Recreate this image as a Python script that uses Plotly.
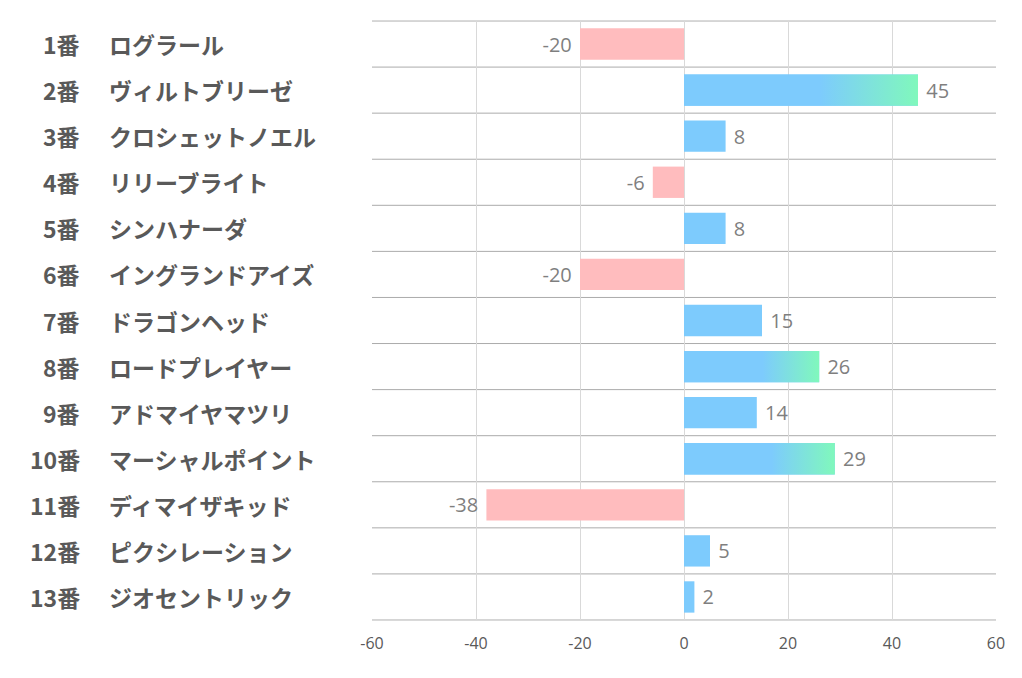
import plotly.graph_objects as go

numbers = ["1番", "2番", "3番", "4番", "5番", "6番", "7番", "8番", "9番", "10番", "11番", "12番", "13番"]
names = ["ログラール", "ヴィルトブリーゼ", "クロシェットノエル", "リリーブライト", "シンハナーダ",
         "イングランドアイズ", "ドラゴンヘッド", "ロードプレイヤー", "アドマイヤマツリ",
         "マーシャルポイント", "ディマイザキッド", "ピクシレーション", "ジオセントリック"]
values = [-20, 45, 8, -6, 8, -20, 15, 26, 14, 29, -38, 5, 2]
x_ticks = [-60, -40, -20, 0, 20, 40, 60]

BLUE = "#7DCBFD"
PINK = "#FFBCBE"
GREEN = "#80F8BC"
BAR_W = 0.68

pos = list(range(len(values)))
colors = [BLUE if v >= 0 else PINK for v in values]
labels = [f" {v}" if v >= 0 else f"{v} " for v in values]

fig = go.Figure()
fig.add_trace(go.Bar(
    x=values, y=pos, orientation="h", width=BAR_W,
    marker=dict(color=colors, line=dict(width=0)),
    text=labels, textposition="outside",
    textfont=dict(family="Open Sans", size=20, color="#7F7F7F"),
    cliponaxis=False, hoverinfo="skip",
))

# gradient overlay for the large positive bars
for i, v in enumerate(values):
    if v >= 20:
        h = BAR_W / 2
        fig.add_trace(go.Scatter(
            x=[0, v, v, 0, 0], y=[i - h, i - h, i + h, i + h, i - h],
            mode="lines", line=dict(width=0), fill="toself",
            fillgradient=dict(type="horizontal",
                              colorscale=[[0, BLUE], [0.58, BLUE], [1, GREEN]]),
            hoverinfo="skip", showlegend=False,
        ))

# row separator lines
for k in range(len(values) + 1):
    fig.add_shape(type="line", xref="paper", x0=0, x1=1, yref="y",
                  y0=k - 0.5, y1=k - 0.5, line=dict(color="#ABABAB", width=1), layer="below")

# left labels
for i in pos:
    fig.add_annotation(x=-0.4647, xref="paper", y=i, yref="y", text=numbers[i],
                       showarrow=False, xanchor="right", yanchor="middle",
                       font=dict(family="Noto Sans CJK JP", size=23, color="#595959", weight="bold"))
    fig.add_annotation(x=-0.4247, xref="paper", y=i, yref="y", text=names[i],
                       showarrow=False, xanchor="left", yanchor="middle",
                       font=dict(family="Noto Sans CJK JP", size=23, color="#595959", weight="bold"))

fig.update_layout(
    width=1014, height=670,
    margin=dict(l=364, r=26, t=13, b=58),
    paper_bgcolor="white", plot_bgcolor="white",
    showlegend=False, bargap=0.3,
    xaxis=dict(range=[-60, 60], tickvals=x_ticks, ticktext=[str(t) for t in x_ticks],
               showgrid=True, gridcolor="#D9D9D9", gridwidth=1, zeroline=False,
               showline=True, mirror=True, linecolor="#D9D9D9",
               tickfont=dict(family="Open Sans", size=16, color="#595959"),
               ticks="", ticklen=0, ticklabelstandoff=9),
    yaxis=dict(range=[len(values) - 0.5, -0.5], showticklabels=False, showgrid=False,
               zeroline=False, showline=False, ticks=""),
)

fig.write_html("out.html")
